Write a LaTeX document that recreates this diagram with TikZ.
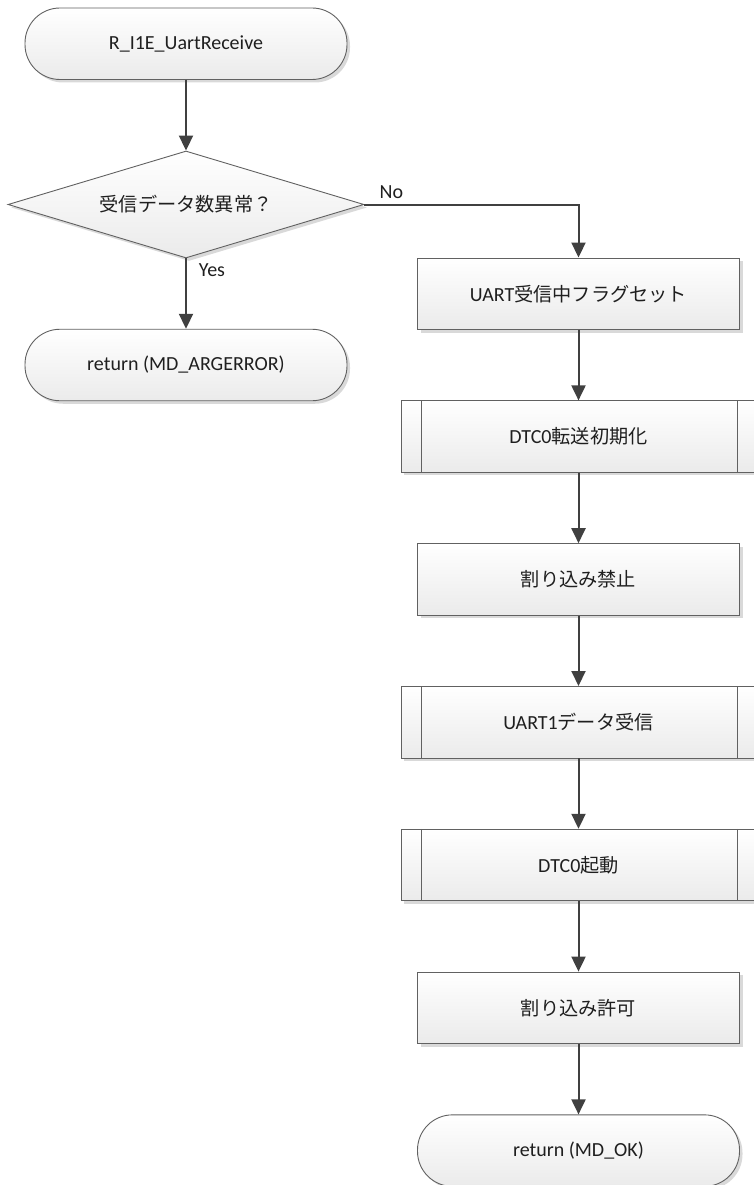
\documentclass[tikz,border=0pt]{standalone}
\usepackage{fontspec}
\setmainfont{Carlito}
\newfontfamily\jp[Scale=0.96]{Noto Sans CJK JP}
\usetikzlibrary{shapes.geometric,shadows,arrows.meta}

\begin{document}
\begin{tikzpicture}[x=1pt,y=-1pt,
  font=\fontsize{20}{24}\selectfont, text=black!88,
  box/.style={draw=black!62, line width=0.9pt, top color=white, bottom color=black!8,
    drop shadow={shadow xshift=3pt,shadow yshift=-3pt,fill=black!15,opacity=1},
    minimum width=322pt, minimum height=71.5pt, inner sep=0pt},
  terminal/.style={box, rounded corners=35pt},
  process/.style={box},
  subproc/.style={box, minimum width=355pt},
  decision/.style={box, diamond, aspect=3.33, minimum width=356pt, minimum height=107pt},
  flow/.style={draw=black!75, line width=2pt, -{Triangle[width=14pt,length=15pt]}},
  sideline/.style={draw=black!62, line width=0.9pt},
  ]
\useasboundingbox (0,0) rectangle (753,1185);

% left column: entry, argument check, error return
\node[terminal] (start) at (186,43.75) {R\_I1E\_UartReceive};
\node[decision] (dec) at (186,204.5) {{\jp 受信データ数異常？}};
\node[terminal] (err) at (186,365) {return (MD\_ARGERROR)};

% right column: receive sequence
\node[process] (p1) at (578.5,293.75) {UART{\jp 受信中フラグセット}};
\node[subproc] (p2) at (578.5,436.6) {DTC0{\jp 転送初期化}};
\node[process] (p3) at (578.5,579.4) {{\jp 割り込み禁止}};
\node[subproc] (p4) at (578.5,722.2) {UART1{\jp データ受信}};
\node[subproc] (p5) at (578.5,865) {DTC0{\jp 起動}};
\node[process] (p6) at (578.5,1007.8) {{\jp 割り込み許可}};
\node[terminal] (ok) at (578.5,1150.6) {return (MD\_OK)};

% inner bars of the predefined-process boxes
\foreach \n in {p2,p4,p5}{
  \draw[sideline] ([xshift=21pt]\n.north west) -- ([xshift=21pt]\n.south west);
  \draw[sideline] ([xshift=-19pt]\n.north east) -- ([xshift=-19pt]\n.south east);
}

% connectors
\draw[flow] (start.south) -- (dec.north);
\draw[flow] (dec.south) -- node[pos=0.17, xshift=26pt]{Yes} (err.north);
\draw[flow] (dec.east) -| node[pos=0.063, yshift=12.5pt]{No} (p1.north);
\draw[flow] (p1.south) -- (p2.north);
\draw[flow] (p2.south) -- (p3.north);
\draw[flow] (p3.south) -- (p4.north);
\draw[flow] (p4.south) -- (p5.north);
\draw[flow] (p5.south) -- (p6.north);
\draw[flow] (p6.south) -- (ok.north);
\end{tikzpicture}
\end{document}
